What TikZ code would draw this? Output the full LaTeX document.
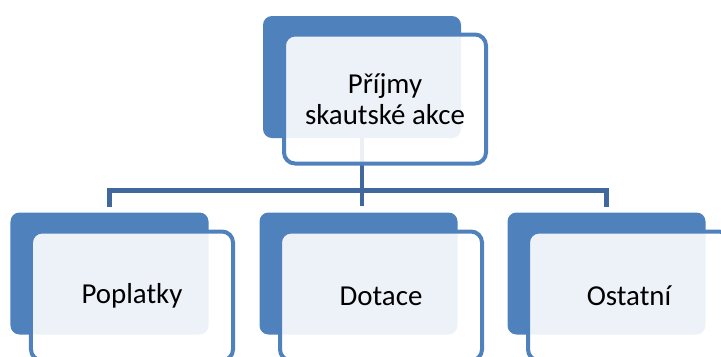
\documentclass[tikz,border=0pt]{standalone}
\usepackage{fontspec}
\setmainfont{Carlito}
\usetikzlibrary{positioning}
\definecolor{boxblue}{RGB}{79,129,189}
\definecolor{lineblue}{RGB}{64,104,156}
\tikzstyle{back} = [rectangle,rounded corners=9bp,fill=boxblue,minimum width=198bp,minimum height=122bp,inner sep=0pt,outer sep=0pt]
\tikzstyle{front} = [rectangle,rounded corners=11bp,draw=boxblue,line width=4bp,fill=white,fill opacity=0.9,text opacity=1,minimum width=202bp,minimum height=129bp,inner sep=0pt,align=center,font=\fontsize{29}{31}\selectfont]
\tikzstyle{conn} = [draw=lineblue,line width=4.5bp]

\begin{document}
\begin{tikzpicture}[x=1bp,y=-1bp]
  \useasboundingbox (0,0) rectangle (721,356);
  \node [back] (b0) at (362,77) {};
  \node [back] (b1) at (109.5,273.5) {};
  \node [back,right=51bp of b1] (b2) {};
  \node [back,right=50bp of b2] (b3) {};

  \coordinate [below=52.5bp of b0.south] (bus);
  \coordinate [below=15.5bp of bus] (s2);
  \coordinate [above=6bp of b1.north] (s1);
  \coordinate [above=6bp of b3.north] (s3);
	\draw [conn] (b0.south) -- (s2);
	\draw [conn] (s1) |- (bus) -| (s3);

  \node [front,below right=16.5bp and 19bp of b0.north west] (f0) {Příjmy\\skautské akce};
  \node [front,below right=17bp and 18.5bp of b1.north west] (f1) {Poplatky};
  \node [front,below right=17bp and 18.5bp of b2.north west] (f2) {Dotace};
  \node [front,below right=17bp and 18.5bp of b3.north west] (f3) {Ostatní};
\end{tikzpicture}
\end{document}
